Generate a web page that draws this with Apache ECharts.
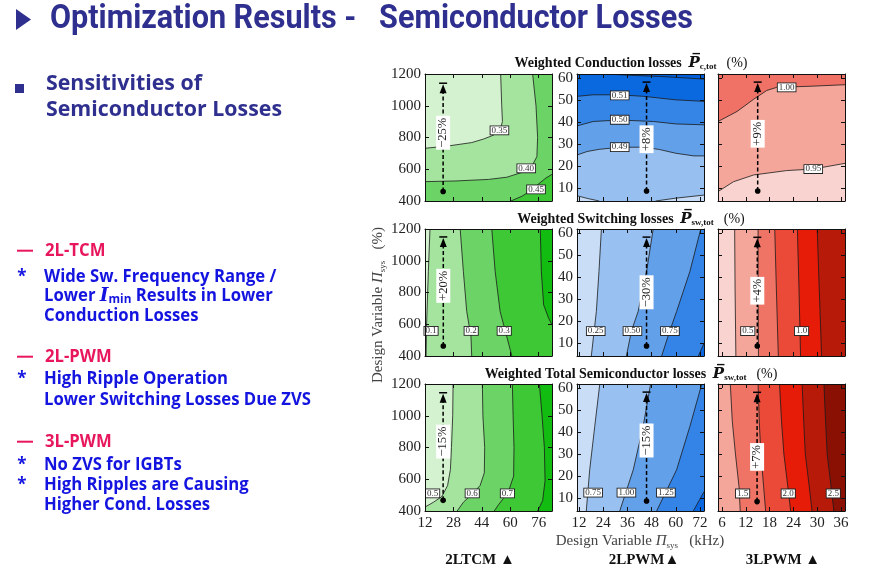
<!DOCTYPE html>
<html>
<head>
<meta charset="utf-8">
<script src="https://cdn.jsdelivr.net/npm/echarts@6/dist/echarts.min.js"></script>
<style>
html, body { margin: 0; padding: 0; background: #fff; }
#main { width: 873px; height: 576px; }
</style>
</head>
<body>
<div id="main"></div>
<script>
// ---- axes ----
const xTicksTcm = [12, 28, 44, 60, 76];
const xTicks2l = [12, 24, 36, 48, 60, 72];
const xTicks3l = [6, 12, 18, 24, 30, 36];
const yTicksTcm = [400, 600, 800, 1000, 1200];
const yTicksPwm = [10, 20, 30, 40, 50, 60];
const xRangeTcm = [12, 83.5];
const xRange2l = [11, 74];
const xRange3l = [5, 37];
const yRangeTcm = [400, 1200];
const yRangePwm = [4, 62];

// ---- row 1: weighted conduction losses ----
const condTcmLevels = ['0.35', '0.40', '0.45'];
const condTcmLines = [
  [[54.6, 1200], [55.2, 1000], [55.6, 900], [54.3, 850], [50.6, 815], [44.9, 790], [38.3, 768], [25.2, 747], [12, 732]],
  [[72.6, 1200], [74.5, 1000], [75.4, 800], [75.0, 680], [72.2, 620], [66.6, 580], [58.1, 550], [47.8, 536], [28.9, 526], [12, 522]],
  [[83.5, 568], [80.1, 545], [76.0, 508], [72.2, 470], [66.6, 430], [60.3, 400]]
];
const condTcmClose = [['bl', 'br', 'tr'], ['bl', 'br', 'tr'], ['br']];
const condTcmLabelAt = [[53.9, 845], [69.0, 606], [74.5, 473]];

const cond2lLevels = ['0.48', '0.48', '0.49', '0.50', '0.51', '0.52'];
const cond2lLines = [
  [[11, 6.4], [16, 5.2], [22, 4]],
  [[50, 4], [60, 5.3], [74, 6.7]],
  [[11, 25], [16, 26.6], [22, 27.6], [32, 28.5], [44, 28.6], [52, 27.5], [60, 25.8], [69, 24.6], [74, 24.6]],
  [[11, 38.3], [19, 40.3], [32, 41], [49, 40.3], [60, 39.2], [74, 38.8]],
  [[11, 51.8], [19, 52.5], [32, 52.5], [44, 51.8], [60, 50.2], [74, 49.5]],
  [[25, 62], [40, 61.3], [52, 60.9], [74, 59.7]]
];
const cond2lClose = [['bl'], ['br'], ['tr', 'tl'], ['tr', 'tl'], ['tr', 'tl'], ['tr']];
const cond2lLabelAt = [null, null, [32.2, 28.6], [32.2, 41.1], [32.2, 52.2], null];

const cond3lLevels = ['0.95', '1.00'];
const cond3lLines = [
  [[5, 8.3], [8.9, 12.8], [14, 15.9], [22.3, 17.9], [29, 18.6], [37, 21.2]],
  [[5, 40.3], [9.8, 44.9], [14, 50.5], [17.3, 54.5], [19.8, 55.9], [28.2, 56.4], [37, 57.1]]
];
const cond3lClose = [['br', 'bl'], ['tr', 'tl']];
const cond3lLabelAt = [[29, 18.6], [22.3, 55.9]];

// ---- row 2: weighted switching losses ----
const swTcmLevels = ['0.1', '0.2', '0.3', '0.4'];
const swTcmLines = [
  [[14.8, 1200], [13.9, 933], [12.9, 600], [12.6, 400]],
  [[31.8, 1200], [33.6, 933], [35.5, 680], [37.9, 520], [38.3, 400]],
  [[49.6, 1200], [51.5, 933], [54.3, 680], [57.2, 558], [60.9, 400]],
  [[76.9, 1200], [77.5, 933], [78.8, 722], [81.6, 638], [83.5, 596]]
];
const swTcmClose = [['br', 'tr'], ['br', 'tr'], ['br', 'tr'], ['tr']];
const swTcmLabelAt = [[15.4, 558], [38.0, 558], [56.6, 558], null];

const sw2lLevels = ['0.25', '0.50', '0.75', '1.00'];
const sw2lLines = [
  [[23.1, 62], [21.9, 42.6], [20.6, 24.3], [18.1, 4]],
  [[48.8, 62], [45.5, 42.6], [41.3, 24.3], [38, 15.4], [35.5, 4]],
  [[72.4, 62], [67, 42.6], [60.4, 24.3], [57, 15.4], [53, 4]],
  [[71.2, 4], [74, 9.8]]
];
const sw2lClose = [['br', 'tr'], ['br', 'tr'], ['br', 'tr'], ['br']];
const sw2lLabelAt = [[20.3, 15.4], [38.5, 15.4], [57.1, 15.4], null];

const sw3lLevels = ['0.5', '0.75', '0.9', '1.0', '1.2'];
const sw3lLines = [
  [[9.2, 62], [9.3, 35], [9.5, 4]],
  [[15.1, 62], [15.1, 35], [15.2, 4]],
  [[19.3, 62], [19.7, 35], [20.2, 4]],
  [[25, 62], [25.4, 35], [25.8, 4]],
  [[30, 62], [30.5, 35], [31.1, 4]]
];
const sw3lClose = [['br', 'tr'], ['br', 'tr'], ['br', 'tr'], ['br', 'tr'], ['br', 'tr']];
const sw3lLabelAt = [[12.5, 15.4], null, null, [26.05, 15.4], null];

// ---- row 3: weighted total semiconductor losses ----
const totTcmLevels = ['0.5', '0.6', '0.7', '0.8'];
const totTcmLines = [
  [[27.8, 1200], [27.6, 1000], [26.9, 800], [26.3, 660], [24.7, 560], [21.4, 490], [16.7, 455], [12, 425]],
  [[44.3, 1200], [44.6, 1000], [45.6, 800], [45.4, 640], [43.0, 560], [38.8, 510], [33.6, 455], [30.1, 400]],
  [[61.2, 1200], [61.6, 1000], [62.1, 800], [61.9, 620], [59.5, 540], [56.2, 480], [53.4, 440], [51.0, 400]],
  [[76.4, 1200], [77.9, 1000], [79.2, 800], [79.6, 590], [78.2, 465], [75.4, 400]]
];
const totTcmClose = [['bl', 'br', 'tr'], ['br', 'tr'], ['br', 'tr'], ['br', 'tr']];
const totTcmLabelAt = [[16.3, 511], [38.6, 511], [58.4, 511], null];

const tot2lLevels = ['0.75', '1.00', '1.25', '1.50'];
const tot2lLines = [
  [[22.3, 62], [19.8, 42.6], [17.3, 22.8], [15.6, 4]],
  [[47.5, 62], [43.8, 42.6], [38.9, 22.8], [32.2, 4]],
  [[72.9, 62], [67, 42.6], [60.4, 22.8], [50.5, 4]],
  [[68.7, 4], [74, 12.8]]
];
const tot2lClose = [['br', 'tr'], ['br', 'tr'], ['br', 'tr'], ['br']];
const tot2lLabelAt = [[19, 12.4], [35.5, 12.4], [55.1, 12.4], null];

const tot3lLevels = ['1.5', '1.75', '2.0', '2.25', '2.5'];
const tot3lLines = [
  [[8.1, 62], [8.6, 45], [9.4, 30], [10.3, 15], [10.6, 4]],
  [[15.1, 62], [15.4, 45], [15.8, 30], [16.5, 15], [17, 4]],
  [[20.5, 62], [21, 45], [21.6, 30], [22.6, 15], [23.3, 4]],
  [[26.2, 62], [26.6, 45], [27, 30], [28, 15], [28.7, 4]],
  [[31.7, 62], [32.1, 45], [32.5, 30], [33.5, 15], [34.2, 4]]
];
const tot3lClose = [['br', 'tr'], ['br', 'tr'], ['br', 'tr'], ['br', 'tr'], ['br', 'tr']];
const tot3lLabelAt = [[11.2, 12], null, [22.7, 12], null, [34.05, 12]];

// sensitivity arrows: [x, from y, to y, text y]
const condArrows = [[22.2, 460, 1142, 830], [45.5, 8.6, 58.3, 32.2], [15, 8.6, 58.3, 34.7]];
const condArrowText = ['\u221225%', '+8%', '+9%'];
const swArrows = [[22.3, 463, 1150, 842], [45.5, 8.6, 58.3, 33.1], [14.9, 8.6, 58.2, 33.8]];
const swArrowText = ['+20%', '\u221230%', '+4%'];
const totArrows = [[22.2, 467, 1145, 837], [45.5, 8.6, 58.3, 36.2], [14.85, 8.3, 58.2, 28.7]];
const totArrowText = ['\u221215%', '\u221215%', '+7%'];

// ---- colours ----
const greenCond = ['#d4f2d0', '#a4e49e', '#6cd466', '#3ec836'];
const greenMore = ['#d4f2d0', '#a4e49e', '#6cd466', '#3ec836', '#12bc10'];
const blueCond = ['#97c0f0', '#c6dbf6', '#c6dbf6', '#63a0ea', '#3585e7', '#0b69e0', '#005fd8'];
const blueMore = ['#c9ddf6', '#98c1f1', '#63a0ea', '#3384e6', '#0a66df'];
const redCond = ['#f4a69b', '#f9d3cf', '#f07266'];
const redSw = ['#f9d3cf', '#f4a69b', '#f07466', '#ec4a38', '#e61c08', '#b81a0a'];
const redTot = ['#f4a69b', '#f07466', '#ec4a38', '#e61c08', '#b81a0a', '#8a1004'];

const SERIF = '"Liberation Serif", "DejaVu Serif", serif';
const SANS = '"Open Sans", "Noto Sans", sans-serif';

const cols = [
  { xr: xRangeTcm, yr: yRangeTcm, xt: xTicksTcm, yt: yTicksTcm, left: 425 },
  { xr: xRange2l, yr: yRangePwm, xt: xTicks2l, yt: yTicksPwm, left: 577 },
  { xr: xRange3l, yr: yRangePwm, xt: xTicks3l, yt: yTicksPwm, left: 718 }
];
const rowTops = [74, 229, 384];

const panels = [
  { lines: condTcmLines, close: condTcmClose, levels: condTcmLevels, labels: condTcmLabelAt, fills: greenCond, arrow: condArrows[0], arrowText: condArrowText[0] },
  { lines: cond2lLines, close: cond2lClose, levels: cond2lLevels, labels: cond2lLabelAt, fills: blueCond, arrow: condArrows[1], arrowText: condArrowText[1] },
  { lines: cond3lLines, close: cond3lClose, levels: cond3lLevels, labels: cond3lLabelAt, fills: redCond, arrow: condArrows[2], arrowText: condArrowText[2] },
  { lines: swTcmLines, close: swTcmClose, levels: swTcmLevels, labels: swTcmLabelAt, fills: greenMore, arrow: swArrows[0], arrowText: swArrowText[0] },
  { lines: sw2lLines, close: sw2lClose, levels: sw2lLevels, labels: sw2lLabelAt, fills: blueMore, arrow: swArrows[1], arrowText: swArrowText[1] },
  { lines: sw3lLines, close: sw3lClose, levels: sw3lLevels, labels: sw3lLabelAt, fills: redSw, arrow: swArrows[2], arrowText: swArrowText[2] },
  { lines: totTcmLines, close: totTcmClose, levels: totTcmLevels, labels: totTcmLabelAt, fills: greenMore, arrow: totArrows[0], arrowText: totArrowText[0] },
  { lines: tot2lLines, close: tot2lClose, levels: tot2lLevels, labels: tot2lLabelAt, fills: blueMore, arrow: totArrows[1], arrowText: totArrowText[1] },
  { lines: tot3lLines, close: tot3lClose, levels: tot3lLevels, labels: tot3lLabelAt, fills: redTot, arrow: totArrows[2], arrowText: totArrowText[2] }
];

function corner(c, xr, yr) {
  return [c[1] === 'l' ? xr[0] : xr[1], c[0] === 'b' ? yr[0] : yr[1]];
}
function plain(v) { return String(v); }

const grid = [], xAxis = [], yAxis = [], series = [];
const n = panels.length;
panels.forEach(function (p, i) {
  const row = Math.floor(i / 3), col = cols[i % 3];
  grid.push({ left: col.left, top: rowTops[row], width: 127, height: 127 });
  const tick = { show: true, inside: true, length: 4, lineStyle: { color: '#111', width: 1 } };
  const line = { show: true, onZero: false, lineStyle: { color: '#111', width: 1 } };
  xAxis[i] = {
    gridIndex: i, type: 'value', position: 'bottom', min: col.xr[0], max: col.xr[1], z: 10,
    axisLine: line, splitLine: { show: false },
    axisTick: Object.assign({ customValues: col.xt }, tick),
    axisLabel: { show: row === 2, customValues: col.xt, formatter: plain, fontFamily: SERIF, fontSize: 15, color: '#222', margin: 5 }
  };
  xAxis[n + i] = {
    gridIndex: i, type: 'value', position: 'top', min: col.xr[0], max: col.xr[1], z: 10,
    axisLine: line, splitLine: { show: false },
    axisTick: Object.assign({ customValues: col.xt }, tick), axisLabel: { show: false }
  };
  yAxis[i] = {
    gridIndex: i, type: 'value', position: 'left', min: col.yr[0], max: col.yr[1], z: 10,
    axisLine: line, splitLine: { show: false },
    axisTick: Object.assign({ customValues: col.yt }, tick),
    axisLabel: { show: i % 3 !== 2, customValues: col.yt, formatter: plain, fontFamily: SERIF, fontSize: 15, color: '#222', margin: 4 }
  };
  yAxis[n + i] = {
    gridIndex: i, type: 'value', position: 'right', min: col.yr[0], max: col.yr[1], z: 10,
    axisLine: line, splitLine: { show: false },
    axisTick: Object.assign({ customValues: col.yt }, tick), axisLabel: { show: false }
  };

  // filled contour bands + contour lines
  series.push({
    type: 'custom', xAxisIndex: i, yAxisIndex: i, clip: true, silent: true, z: 2,
    data: [[-1]].concat(p.lines.map(function (_, k) { return [k]; })),
    renderItem: function (params, api) {
      const k = params.dataIndex - 1;
      if (k < 0) {
        const a = api.coord([col.xr[0], col.yr[1]]), b = api.coord([col.xr[1], col.yr[0]]);
        return { type: 'rect', z2: 0, shape: { x: a[0], y: a[1], width: b[0] - a[0], height: b[1] - a[1] }, style: { fill: p.fills[0] } };
      }
      const pts = p.lines[k].map(function (d) { return api.coord(d); });
      const ring = pts.concat(p.close[k].map(function (c) { return api.coord(corner(c, col.xr, col.yr)); }));
      return {
        type: 'group', children: [
          { type: 'polygon', z2: 1 + k, shape: { points: ring }, style: { fill: p.fills[k + 1] } },
          { type: 'polyline', z2: 50 + k, shape: { points: pts }, style: { stroke: '#1a1a1a', lineWidth: 0.8, fill: null } }
        ]
      };
    }
  });

  // contour labels + sensitivity arrow
  series.push({
    type: 'custom', xAxisIndex: i, yAxisIndex: i, silent: true, z: 3,
    data: [[0]],
    renderItem: function (params, api) {
      const kids = [];
      p.labels.forEach(function (pos, k) {
        if (!pos) return;
        const c = api.coord(pos);
        kids.push({
          type: 'text', x: c[0], y: c[1], z2: 100,
          style: { text: p.levels[k], font: '9px ' + SERIF, fill: '#333', align: 'center', verticalAlign: 'middle',
            backgroundColor: '#fff', borderColor: '#222', borderWidth: 0.9, padding: [0, 1, -1, 1] }
        });
      });
      const a = p.arrow;
      const base = api.coord([a[0], a[1]]), top = api.coord([a[0], a[2]]), mid = api.coord([a[0], a[3]]);
      kids.push({ type: 'line', z2: 90, shape: { x1: base[0], y1: base[1], x2: top[0], y2: top[1] + 8 }, style: { stroke: '#000', lineWidth: 1.5, lineDash: [4, 2.5] } });
      kids.push({ type: 'line', z2: 90, shape: { x1: top[0] - 4, y1: top[1], x2: top[0] + 4, y2: top[1] }, style: { stroke: '#000', lineWidth: 1.5 } });
      kids.push({ type: 'polygon', z2: 90, shape: { points: [[top[0], top[1] + 1], [top[0] - 3.5, top[1] + 10], [top[0] + 3.5, top[1] + 10]] }, style: { fill: '#000' } });
      kids.push({ type: 'circle', z2: 90, shape: { cx: base[0], cy: base[1], r: 2.8 }, style: { fill: '#000' } });
      kids.push({
        type: 'text', x: mid[0], y: mid[1], rotation: Math.PI / 2, z2: 95,
        style: { text: p.arrowText, font: '12.5px ' + SERIF, fill: '#222', align: 'center', verticalAlign: 'middle', backgroundColor: '#fff', padding: [1, 2, 0, 2] }
      });
      return { type: 'group', children: kids };
    }
  });
});

// ---- slide texts ----
const ctx = document.createElement('canvas').getContext('2d');
function fit(text, font, width) {
  ctx.font = font;
  return width / ctx.measureText(text).width;
}

const titleText = 'Optimization Results -   Semiconductor Losses';
const titleFont = 'bold 33px Roboto';
const navy = '#2e2f8e';
const red = '#e8175d';
const blue = '#1414e0';
const bodyFont = 'bold 17px ' + SANS;
const bodyScale = fit('Lower Switching Losses Due ZVS', bodyFont, 267);
const headFont = 'bold 22px ' + SANS;
const headScale = fit('Semiconductor Losses', headFont, 236);

const graphics = [
  { type: 'polygon', shape: { points: [[16, 9], [16, 30], [31, 19.5]] }, style: { fill: navy } },
  { type: 'text', x: 50, y: 20, scaleX: fit(titleText, titleFont, 643),
    style: { text: titleText, font: titleFont, fill: navy, verticalAlign: 'middle', shadowColor: 'rgba(0,0,0,0.25)', shadowOffsetX: 2, shadowOffsetY: 2, shadowBlur: 2 } },
  { type: 'rect', shape: { x: 15, y: 84, width: 9, height: 9 }, style: { fill: navy } },
  { type: 'text', x: 46, y: 84, scaleX: headScale, style: { text: 'Sensitivities of', font: headFont, fill: navy, verticalAlign: 'middle' } },
  { type: 'text', x: 46, y: 110, scaleX: headScale, style: { text: 'Semiconductor Losses', font: headFont, fill: navy, verticalAlign: 'middle' } }
];

const redLines = [['2L-TCM', 250.7], ['2L-PWM', 356.7], ['3L-PWM', 441.7]];
redLines.forEach(function (r) {
  graphics.push({ type: 'rect', shape: { x: 17, y: r[1] - 1, width: 16, height: 2 }, style: { fill: red } });
  graphics.push({ type: 'text', x: 45, y: r[1], scaleX: bodyScale, style: { text: r[0], font: bodyFont, fill: red, verticalAlign: 'middle' } });
});
const blueLines = [
  ['Wide Sw. Frequency Range /', 276.7, true],
  ['Lower {i|I}{s|min} Results in Lower', 296, false],
  ['Conduction Losses', 316, false],
  ['High Ripple Operation', 379, true],
  ['Lower Switching Losses Due ZVS', 400, false],
  ['No ZVS for IGBTs', 465, true],
  ['High Ripples are Causing', 485, true],
  ['Higher Cond. Losses', 505, false]
];
blueLines.forEach(function (b) {
  if (b[2]) graphics.push({ type: 'text', x: 22, y: b[1], style: { text: '*', font: bodyFont, fill: blue, align: 'center', verticalAlign: 'middle' } });
  graphics.push({
    type: 'text', x: 44, y: b[1], scaleX: bodyScale,
    style: { text: b[0], font: bodyFont, fill: blue, verticalAlign: 'middle',
      rich: { i: { font: 'bold italic 19px "DejaVu Serif"', fill: blue, lineHeight: 20 },
              s: { font: 'bold 12px ' + SANS, fill: blue, lineHeight: 20, verticalAlign: 'bottom', padding: [8, 0, 0, 0] } } }
  });
});

function panelTitle(y, main, sub) {
  return {
    type: 'text', x: 631, y: y,
    style: {
      text: '{m|' + main + '}  {p|P\u0305}{s|' + sub + '}   {r|(%)}',
      align: 'center', verticalAlign: 'middle',
      rich: {
        m: { font: 'bold 14px ' + SERIF, fill: '#111', lineHeight: 16 },
        p: { font: 'italic bold 15px "DejaVu Serif"', fill: '#111', lineHeight: 16 },
        s: { font: 'bold 9px ' + SERIF, fill: '#111', lineHeight: 16, verticalAlign: 'bottom', padding: [7, 0, 0, 0] },
        r: { font: '14px ' + SERIF, fill: '#111', lineHeight: 16 }
      }
    }
  };
}
graphics.push(panelTitle(63, 'Weighted Conduction losses', 'c,tot'));
graphics.push(panelTitle(219, 'Weighted Switching losses', 'sw,tot'));
graphics.push(panelTitle(374, 'Weighted Total Semiconductor losses', 'sw,tot'));

const axisRich = {
  t: { font: '15px ' + SERIF, fill: '#444', lineHeight: 18 },
  i: { font: 'italic 15px ' + SERIF, fill: '#444', lineHeight: 18 },
  s: { font: '9px ' + SERIF, fill: '#444', lineHeight: 18, verticalAlign: 'bottom', padding: [8, 0, 0, 0] }
};
graphics.push({ type: 'text', x: 640, y: 541,
  style: { text: '{t|Design Variable }{i|\u03a0}{s|sys}{t|   (kHz)}', align: 'center', verticalAlign: 'middle', rich: axisRich } });
graphics.push({ type: 'text', x: 378, y: 305, rotation: Math.PI / 2,
  style: { text: '{t|Design Variable }{i|\u03a0}{s|sys}{t|   (%)}', align: 'center', verticalAlign: 'middle', rich: axisRich } });

const bottomNames = [['2LTCM \u25b2', 480], ['2LPWM\u25b2', 644], ['3LPWM \u25b2', 783]];
bottomNames.forEach(function (b) {
  graphics.push({ type: 'text', x: b[1], y: 560, style: { text: b[0], font: 'bold 15px ' + SERIF, fill: '#111', align: 'center', verticalAlign: 'middle' } });
});

const chart = echarts.init(document.getElementById('main'));
chart.setOption({
  backgroundColor: '#fff',
  animation: false,
  grid: grid,
  xAxis: xAxis,
  yAxis: yAxis,
  series: series,
  graphic: graphics
});
</script>
</body>
</html>
